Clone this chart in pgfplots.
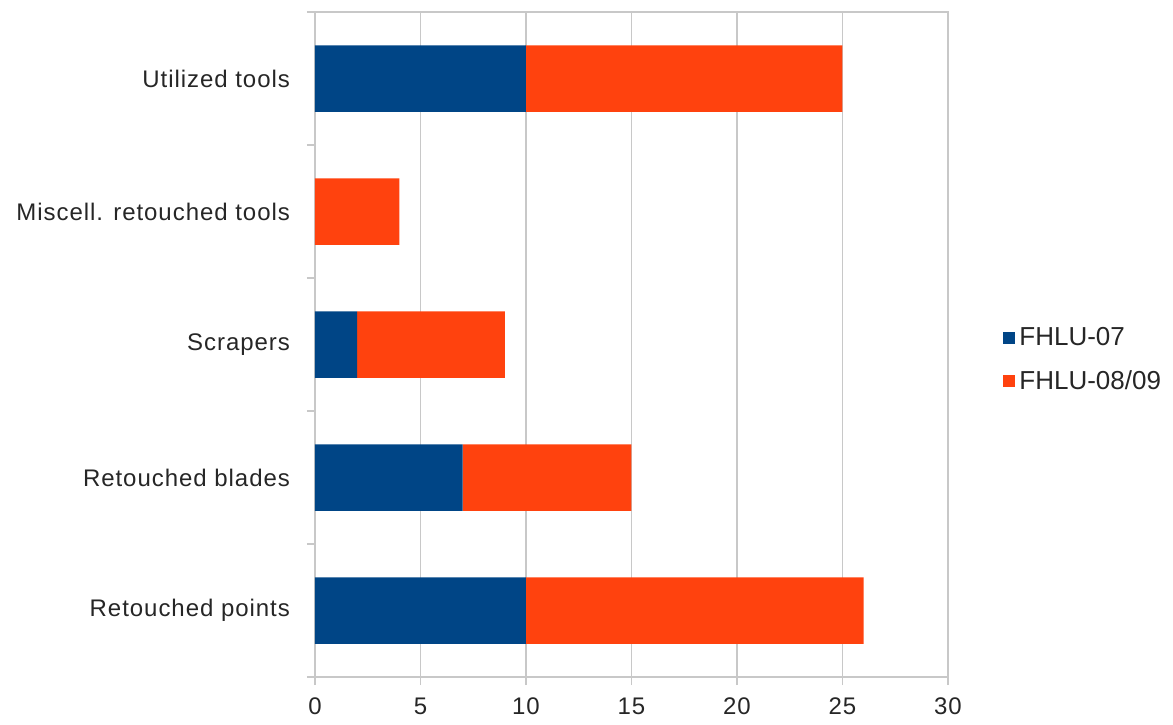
\documentclass[border=0pt]{standalone}
\usepackage{pgfplots}
\pgfplotsset{compat=1.18}
\usepackage{fontspec}
\setmainfont[LetterSpace=4]{Liberation Sans}
\newfontfamily\legendfont{Liberation Sans}
\definecolor{fhluA}{HTML}{004586}
\definecolor{fhluB}{HTML}{FF420E}
\definecolor{gridc}{HTML}{C8C8C8}
\begin{document}
\begin{tikzpicture}
\useasboundingbox (-157.5pt,-23.5pt) rectangle (429pt,338.5pt);
\begin{axis}[
  scale only axis,
  width=316.5pt, height=332.5pt,
  xbar stacked, bar width=0.5,
  xmin=0, xmax=30,
  ymin=-0.5, ymax=4.5,
  xtick={0,5,...,30},
  xtick pos=bottom, ytick pos=left,
  % category boundaries carry the short tick marks
  ytick={-0.5,0.5,1.5,2.5,3.5,4.5},
  yticklabels={},
  % category names sit between them, without marks
  extra y ticks={0,1,2,3,4},
  extra y tick labels={Retouched points,Retouched blades,Scrapers,Miscell. retouched tools,Utilized tools},
  extra y tick style={major tick length=0pt, tick style={draw=none}},
  tick align=outside,
  major tick length=4pt,
  tick style={draw=gridc, line width=0.6pt},
  xmajorgrids, major grid style={gridc, line width=0.6pt},
  axis line style={gridc, line width=0.6pt},
  every tick label/.append style={font=\fontsize{12}{14}\selectfont, text=black!85},
  yticklabel style={xshift=-9pt},
  xticklabel style={yshift=-3pt},
  /pgf/number format/assume math mode=true,
  legend style={draw=none, fill=none, at={(1.0869,0.477)}, anchor=west,
    font=\legendfont\fontsize{13}{15}\selectfont, text=black!85,
    row sep=7pt, inner sep=0pt,
    /tikz/every even column/.append style={column sep=4.5pt}},
  legend cell align=left,
  legend image code/.code={\fill[#1] (0pt,-3pt) rectangle (6pt,3pt);},
]
\addplot[fill=fhluA, draw=none] coordinates {(10,0) (7,1) (2,2) (0,3) (10,4)};
\addplot[fill=fhluB, draw=none] coordinates {(16,0) (8,1) (7,2) (4,3) (15,4)};
\legend{FHLU-07,FHLU-08/09}
\end{axis}
\end{tikzpicture}
\end{document}
